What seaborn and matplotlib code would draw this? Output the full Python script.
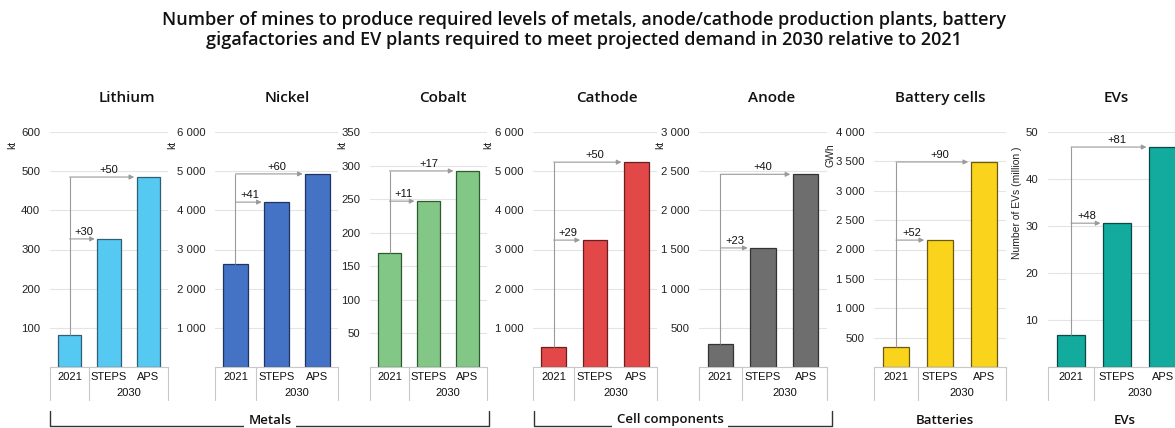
import matplotlib
matplotlib.use("Agg")
import matplotlib.pyplot as plt
import matplotlib.transforms as mtransforms
from matplotlib.ticker import FuncFormatter, MultipleLocator
import seaborn as sns
import pandas as pd

# ---------------- data ----------------
categories = ["2021", "STEPS", "APS"]
group_label = "2030"
panel_titles = ["Lithium", "Nickel", "Cobalt", "Cathode", "Anode", "Battery cells", "EVs"]
lithium = [82, 327, 485]
nickel = [2630, 4210, 4930]
cobalt = [170, 247, 292]
cathode = [510, 3240, 5230]
anode = [294, 1520, 2460]
battery_cells = [340, 2160, 3490]
evs = [6.8, 30.6, 46.8]
increase_steps = ["+30", "+41", "+11", "+29", "+23", "+52", "+48"]
increase_aps = ["+50", "+60", "+17", "+50", "+40", "+90", "+81"]
units = ["kt", "kt", "kt", "kt", "kt", "GWh", "Number of EVs (million )"]
y_max = [600, 6000, 350, 6000, 3000, 4000, 50]
y_step = [100, 1000, 50, 1000, 500, 500, 10]
colors = ["#56C9F2", "#4472C4", "#82C785", "#E34848", "#6E6E6E", "#F9D31C", "#12AB9E"]
edge_colors = ["#2f5f70", "#1f3560", "#2f5a30", "#6a1f1f", "#333333", "#6a5a10", "#0a4a44"]
groups = ["Metals", "Cell components"]
single_groups = ["Batteries", "EVs"]
title = ("Number of mines to produce required levels of metals, anode/cathode production plants, battery\n"
         "gigafactories and EV plants required to meet projected demand in 2030 relative to 2021")

series = [lithium, nickel, cobalt, cathode, anode, battery_cells, evs]

# ---------------- layout (pixels) ----------------
W, H = 1175, 428
axes_lr = [(50, 168), (215, 338), (370, 487), (533, 657), (699, 827), (874, 1006), (1048, 1186)]
ax_top, ax_bot = 132, 367
title_x = [127, 287, 443, 607, 772, 940, 1116]
ylab_pos = [(12, 145), (172, 145), (342, 145), (488, 145), (660, 145), (831, 155), (1017, 203)]

sns.set_theme(style="white")
plt.rcParams["font.family"] = ["Liberation Sans", "DejaVu Sans"]
head_font = ["Open Sans", "DejaVu Sans"]

fig = plt.figure(figsize=(W / 100, H / 100), dpi=100)
fig.patch.set_facecolor("white")

def fx(px):
    return px / W

def fy(py):
    return 1 - py / H

fmt = FuncFormatter(lambda v, p: "" if v == 0 else f"{v:,.0f}".replace(",", " "))
arrow_col = "#9a9a9a"
box_col = "#c8c8c8"

for i, vals in enumerate(series):
    l, r = axes_lr[i]
    ax = fig.add_axes([fx(l), fy(ax_bot), (r - l) / W, (ax_bot - ax_top) / H])
    df = pd.DataFrame({"cat": categories, "val": vals})
    sns.barplot(data=df, x="cat", y="val", color=colors[i], width=0.6,
                edgecolor=edge_colors[i], linewidth=0.9, saturation=1, ax=ax)
    ax.set_xlim(-0.5, 2.5)
    ax.set_ylim(0, y_max[i])
    ax.yaxis.set_major_locator(MultipleLocator(y_step[i]))
    ax.yaxis.set_major_formatter(fmt)
    ax.tick_params(axis="y", length=0, pad=7, labelsize=8.2, labelcolor="#222222")
    ax.set_xticks([])
    ax.set_xlabel("")
    ax.set_ylabel("")
    ax.yaxis.grid(True, color="#e4e4e4", lw=0.8)
    ax.set_axisbelow(True)
    for s in ["top", "right", "left"]:
        ax.spines[s].set_visible(False)
    ax.spines["bottom"].set_color(box_col)
    ax.spines["bottom"].set_linewidth(0.8)
    ax.patch.set_alpha(0)

    # panel title
    fig.text(fx(title_x[i]), fy(98), panel_titles[i], ha="center", va="center",
             fontsize=11, family=head_font, weight="semibold", color="#111111")
    # unit label
    ux, uy = ylab_pos[i]
    fig.text(fx(ux), fy(uy), units[i], rotation=90, ha="center", va="center",
             fontsize=7.5, color="#222222")

    # arrows
    v0, v1, v2 = vals
    ax.plot([0, 0], [v0, v2], color=arrow_col, lw=0.8, solid_capstyle="butt")
    gap = 0.06
    for xt, v, lab, lx in [(1, v1, increase_steps[i], 0.35), (2, v2, increase_aps[i], 1.0)]:
        ax.annotate("", xy=(xt - 0.3 - gap, v), xytext=(0, v),
                    arrowprops=dict(arrowstyle="-|>", color=arrow_col, lw=0.8,
                                    mutation_scale=7, shrinkA=0, shrinkB=0))
        ax.annotate(lab, xy=(lx, v), xytext=(0, 1.5), textcoords="offset points",
                    ha="center", va="bottom", fontsize=8, color="#111111")

    # category axis box
    tr = mtransforms.blended_transform_factory(ax.transData, fig.transFigure)
    for xv in [-0.5, 0.5, 2.5]:
        ax.plot([xv, xv], [fy(ax_bot), fy(ax_bot + 33)], transform=tr, color=box_col,
                lw=0.8, clip_on=False)
    for k, c in enumerate(categories):
        ax.text(k, fy(ax_bot + 10.5), c, transform=tr, ha="center", va="center",
                fontsize=8, color="#111111")
    ax.text(1.5, fy(ax_bot + 26), group_label, transform=tr, ha="center", va="center",
            fontsize=8, color="#111111")

# brackets
bracket_spans = [(50, 489, 270), (534, 832, 670)]
for (x0, x1, tx), lab in zip(bracket_spans, groups):
    fig.add_artist(plt.Line2D([fx(x0), fx(x0), fx(x1), fx(x1)],
                              [fy(411), fy(426), fy(426), fy(411)],
                              color="#333333", lw=1.0))
    fig.text(fx(tx), fy(420), lab, ha="center", va="center", fontsize=9.5,
             family=head_font, weight="semibold", color="#111111",
             bbox=dict(facecolor="white", edgecolor="none", pad=3))
for (tx, lab) in zip([945, 1125], single_groups):
    fig.text(fx(tx), fy(420), lab, ha="center", va="center", fontsize=9.5,
             family=head_font, weight="semibold", color="#111111")

fig.text(fx(584), fy(30), title, ha="center", va="center", fontsize=13,
         family=head_font, weight="semibold", color="#111111", linespacing=1.1)

fig.savefig("out.png", dpi=100, facecolor="white")
